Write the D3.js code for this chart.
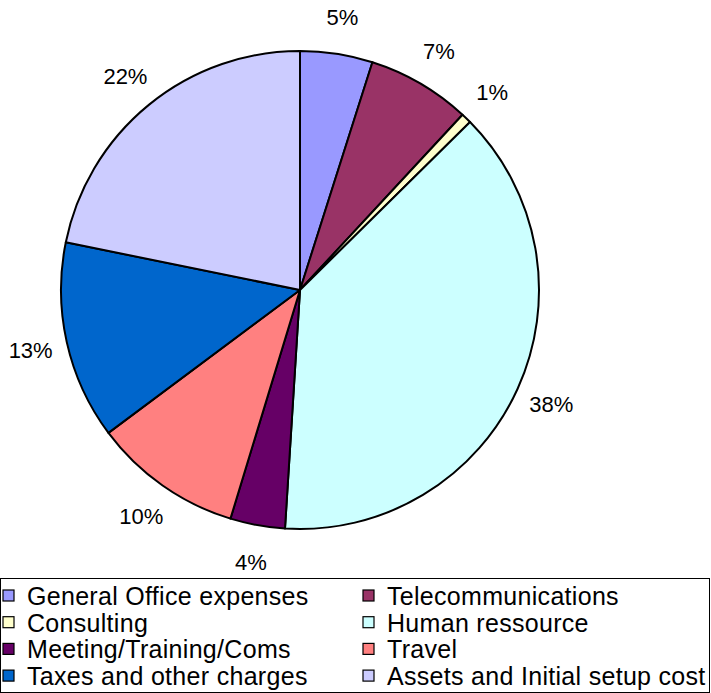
<!DOCTYPE html>
<meta charset="utf-8">
<script src="https://d3js.org/d3.v7.min.js"></script>
<style>
  body { margin: 0; background: #fff; }
  text { font-family: "Liberation Sans", Arial, sans-serif; fill: #000; }
</style>
<div id="chart"></div>
<script>

// categories and their share of the budget (%)
const categories = ["General Office expenses", "Telecommunications", "Consulting", "Human ressource",
  "Meeting/Training/Coms", "Travel", "Taxes and other charges", "Assets and Initial setup cost"];
const values = [4.9, 7.0, 0.7, 38.4, 3.7, 10.1, 13.4, 21.8];
const colors = ["#9999ff", "#993366", "#ffffcc", "#ccffff", "#660066", "#ff8080", "#0066cc", "#ccccff"];

const width = 711, height = 693;
const cx = 300, cy = 290, radius = 239;

const svg = d3.select("#chart")
  .append("svg")
    .attr("width", width)
    .attr("height", height);

const data = categories.map((c, i) => ({name: c, value: values[i], color: colors[i]}));

const pie = d3.pie().sort(null).value(d => d.value);
const arc = d3.arc().innerRadius(0).outerRadius(radius);
const labelArc = d3.arc().innerRadius(radius + 37).outerRadius(radius + 37);

const g = svg.append("g").attr("transform", `translate(${cx},${cy})`);

g.selectAll("path")
  .data(pie(data))
  .join("path")
    .attr("d", arc)
    .attr("fill", d => d.data.color)
    .attr("stroke", "#000")
    .attr("stroke-width", 2)
    .attr("stroke-linejoin", "round");

g.selectAll("text.lbl")
  .data(pie(data))
  .join("text")
    .attr("class", "lbl")
    .attr("transform", d => `translate(${labelArc.centroid(d)})`)
    .attr("text-anchor", "middle")
    .attr("dy", "0.36em")
    .style("font-size", "22px")
    .text(d => Math.round(d.data.value) + "%");

// legend
const legend = svg.append("g").attr("transform", "translate(0,578)");
legend.append("rect")
  .attr("x", 0.5).attr("y", 0.5)
  .attr("width", 709).attr("height", 114)
  .attr("fill", "#fff")
  .attr("stroke", "#000")
  .attr("stroke-width", 1);

const item = legend.selectAll("g.item")
  .data(data)
  .join("g")
    .attr("class", "item")
    .attr("transform", (d, i) => `translate(${i % 2 ? 363 : 3},${18 + Math.floor(i / 2) * 26.7})`);

item.append("rect")
  .attr("x", 0).attr("y", -6)
  .attr("width", 11).attr("height", 11)
  .attr("fill", d => d.color)
  .attr("stroke", "#000")
  .attr("stroke-width", 1.2);

item.append("text")
  .attr("x", 24)
  .attr("dy", "0.36em")
  .style("font-size", "25px")
  .style("letter-spacing", "0.3px")
  .text(d => d.name);

</script>
